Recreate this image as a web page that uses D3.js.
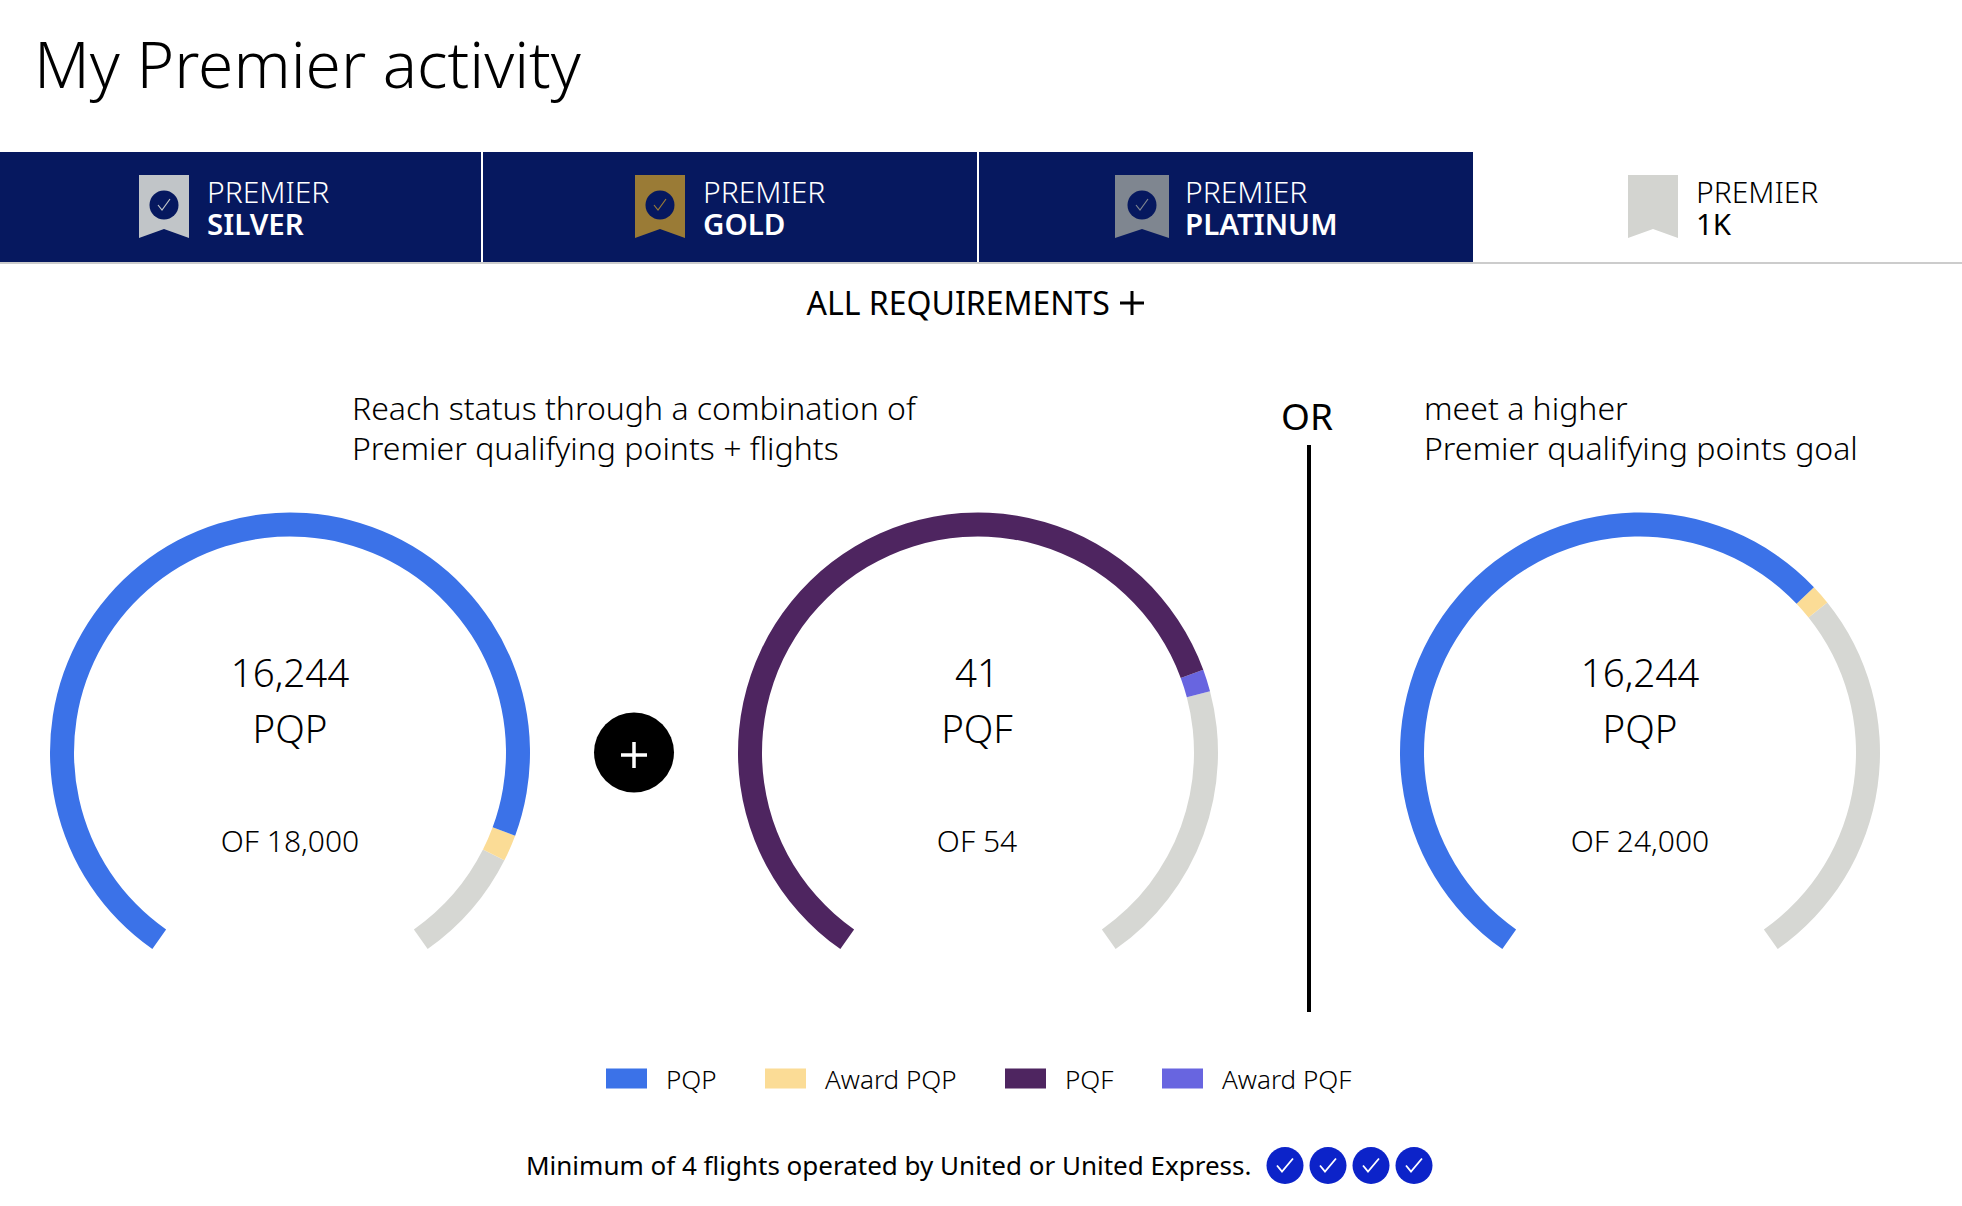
<!DOCTYPE html>
<html><head><meta charset="utf-8">
<script src="https://cdnjs.cloudflare.com/ajax/libs/d3/7.8.5/d3.min.js"></script>
<style>html,body{margin:0;padding:0;background:#fff}svg{display:block}text{font-family:"Noto Sans",sans-serif;fill:#000}</style>
</head><body><svg id="c" width="1962" height="1206"></svg>
<script>
const tiers = ["SILVER","GOLD","PLATINUM","1K"];
const tierEarned = [true,true,true,false];
const tierColors = ["#c1c5c8","#9a7b36","#7f8690","#d3d4d0"];
const ringGoals = [18000,54,24000];
const ringTotals = ["16,244","41","16,244"];
const ringUnits = ["PQP","PQF","PQP"];
const ringGoalLabels = ["OF 18,000","OF 54","OF 24,000"];
const ringBase = [15844,40,15844];
const ringAward = [400,1,400];
const ringBaseColor = ["#3b72e8","#4e2560","#3b72e8"];
const ringAwardColor = ["#fbdc96","#6865e0","#fbdc96"];
const legendLabels = ["PQP","Award PQP","PQF","Award PQF"];
const legendColors = ["#3b72e8","#fbdc96","#4e2560","#6865e0"];
const flightsDone = [1,2,3,4];

const svg = d3.select("#c");
const NAVY="#06185f";
const txt=(x,y,s,size,o={})=>svg.append("text").attr("x",x).attr("y",y).attr("font-size",size)
  .attr("text-anchor",o.a||"start").attr("font-weight",o.w||300).style("fill",o.f||"#000").text(s);

txt(34,88,"My Premier activity",64);

// tabs
const tabEdges=[0,483,979,1473,1962];
svg.append("rect").attr("x",0).attr("y",262).attr("width",1962).attr("height",2).attr("fill","#cccccc");
tiers.forEach((t,i)=>{
  if(tierEarned[i]) svg.append("rect").attr("x",tabEdges[i]).attr("y",152).attr("height",110)
    .attr("width",tabEdges[i+1]-tabEdges[i]-(i<2?2:0)).attr("fill",NAVY);
});
const ribX=[139,635,1115,1628], ribW=[50,50,54,50], txtX=[207,703,1185,1696];
tiers.forEach((t,i)=>{
  const x=ribX[i],w=ribW[i],top=175,bot=238,n=229;
  svg.append("path").attr("fill",tierColors[i])
    .attr("d",`M${x} ${top}H${x+w}V${bot}L${x+w/2} ${n}L${x} ${bot}Z`);
  if(tierEarned[i]){
    const cx=x+w/2,cy=205;
    svg.append("circle").attr("cx",cx).attr("cy",cy).attr("r",14.5).attr("fill",NAVY);
    svg.append("path").attr("fill","none").attr("stroke",tierColors[i]).attr("stroke-width",1.2)
      .attr("d",`M${cx-6} ${cy+0}L${cx-2} ${cy+5}L${cx+6} ${cy-6}`);
  }
  const col=tierEarned[i]?"#fff":"#000";
  txt(txtX[i],202.5,"PREMIER",30,{f:col});
  txt(txtX[i],235,t,29.5,{f:col,w:i<3?600:400});
});

txt(806.5,314.5,"ALL REQUIREMENTS",32,{w:400});
svg.append("path").attr("stroke","#000").attr("stroke-width",3).attr("d","M1120 303H1144M1132 291V315");

txt(352,420,"Reach status through a combination of",32);
txt(352,460,"Premier qualifying points + flights",32);
txt(1424,420,"meet a higher",32);
txt(1424,460,"Premier qualifying points goal",32);
txt(1307,430,"OR",37,{a:"middle",w:400});
svg.append("line").attr("x1",1309).attr("x2",1309).attr("y1",445).attr("y2",1012).attr("stroke","#000").attr("stroke-width",4);

// rings
const ringX=[290,978,1640], labelX=[290,977,1640], cy=752.5;
const START=-145*Math.PI/180, END=145*Math.PI/180;
const arc=d3.arc().innerRadius(216).outerRadius(240);
ringGoals.forEach((g,i)=>{
  const a=d3.scaleLinear().domain([0,g]).range([START,END]);
  const G=svg.append("g").attr("transform",`translate(${ringX[i]},${cy})`);
  const b=ringBase[i], t=b+ringAward[i];
  G.append("path").attr("fill","#d6d7d3").attr("d",arc({startAngle:a(t),endAngle:a(g)}));
  G.append("path").attr("fill",ringAwardColor[i]).attr("d",arc({startAngle:a(b),endAngle:a(t)}));
  G.append("path").attr("fill",ringBaseColor[i]).attr("d",arc({startAngle:a(0),endAngle:a(b)}));
  txt(labelX[i],687,ringTotals[i],38.5,{a:"middle"});
  txt(labelX[i],743,ringUnits[i],38.5,{a:"middle"});
  txt(labelX[i],852,ringGoalLabels[i],30,{a:"middle"});
});

// plus
svg.append("circle").attr("cx",634).attr("cy",752.5).attr("r",40).attr("fill","#000");
svg.append("path").attr("stroke","#fff").attr("stroke-width",3.5).attr("d","M621 755H647M634 742V768");

// legend
const legX=[606,765,1005,1162], legT=[666,825,1065,1222];
legendLabels.forEach((l,i)=>{
  svg.append("rect").attr("x",legX[i]).attr("y",1068.5).attr("width",41).attr("height",20).attr("fill",legendColors[i]);
  txt(legT[i],1089,l,26);
});

// flights
txt(526,1175,"Minimum of 4 flights operated by United or United Express.",26,{w:400});
const fx=d3.scalePoint().domain(flightsDone).range([1285,1414]);
flightsDone.forEach(d=>{
  const x=fx(d),y=1165.5;
  svg.append("circle").attr("cx",x).attr("cy",y).attr("r",18.5).attr("fill","#0c23c9");
  svg.append("path").attr("fill","none").attr("stroke","#fff").attr("stroke-width",1.8)
    .attr("d",`M${x-8} ${y+0}L${x-3} ${y+6}L${x+8} ${y-7}`);
});
</script></body></html>
